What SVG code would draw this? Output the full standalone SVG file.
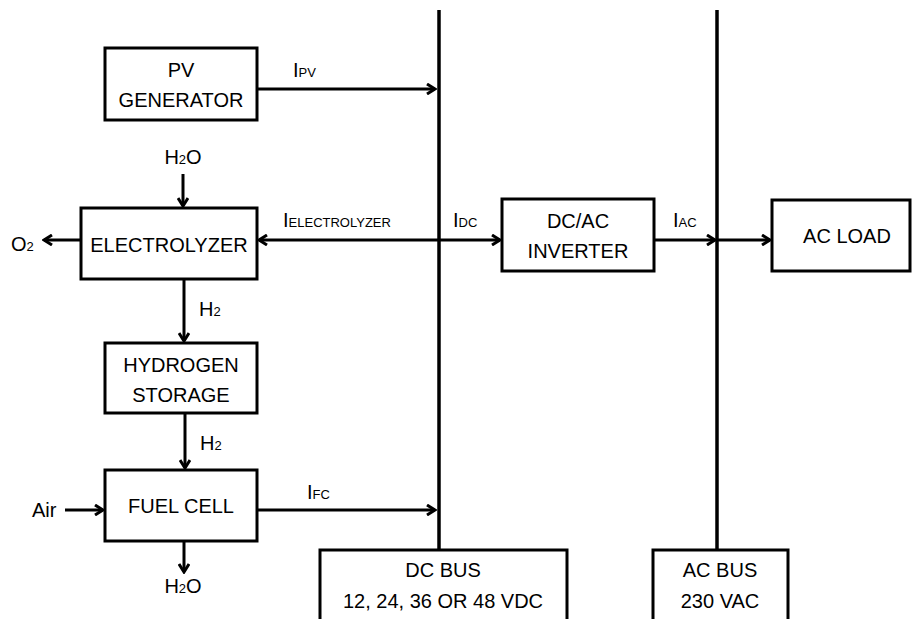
<svg xmlns="http://www.w3.org/2000/svg" width="912" height="619" viewBox="0 0 912 619">
<style>
.box{fill:#fff;stroke:#000;stroke-width:3}
.ln{fill:none;stroke:#000;stroke-width:3}
.bus{fill:none;stroke:#000;stroke-width:3.5}
text{font-family:"Liberation Sans",Arial,sans-serif;font-size:20px;fill:#000}
.c{text-anchor:middle}
.s{font-size:13px}
</style>
<defs>
<marker id="ah" markerWidth="12" markerHeight="12" refX="10" refY="6" orient="auto" markerUnits="userSpaceOnUse">
<path d="M2,1 L10,6 L2,11" fill="none" stroke="#000" stroke-width="3"/>
</marker>
</defs>
<rect width="912" height="619" fill="#fff"/>
<g id="connectors">
<line class="bus" x1="439" y1="10" x2="439" y2="550"/>
<line class="bus" x1="717" y1="10" x2="717" y2="550"/>
<line class="ln" x1="257" y1="89" x2="435" y2="89" marker-end="url(#ah)"/>
<line class="ln" x1="439" y1="240" x2="259" y2="240" marker-end="url(#ah)"/>
<line class="ln" x1="439" y1="240" x2="500" y2="240" marker-end="url(#ah)"/>
<line class="ln" x1="654" y1="240" x2="715" y2="240" marker-end="url(#ah)"/>
<line class="ln" x1="717" y1="240" x2="770" y2="240" marker-end="url(#ah)"/>
<line class="ln" x1="81" y1="240" x2="44" y2="240" marker-end="url(#ah)"/>
<line class="ln" x1="183" y1="174" x2="183" y2="206" marker-end="url(#ah)"/>
<line class="ln" x1="184" y1="279" x2="184" y2="341" marker-end="url(#ah)"/>
<line class="ln" x1="185" y1="413" x2="185" y2="468" marker-end="url(#ah)"/>
<line class="ln" x1="65" y1="510" x2="103" y2="510" marker-end="url(#ah)"/>
<line class="ln" x1="257" y1="510" x2="435" y2="510" marker-end="url(#ah)"/>
<line class="ln" x1="184" y1="541" x2="184" y2="572" marker-end="url(#ah)"/>
<text x="293" y="77">I<tspan class="s">PV</tspan></text>
<text x="283" y="227">I<tspan class="s">ELECTROLYZER</tspan></text>
<text x="453" y="227">I<tspan class="s">DC</tspan></text>
<text x="673" y="227">I<tspan class="s">AC</tspan></text>
<text x="307" y="499">I<tspan class="s">FC</tspan></text>
<text x="183" y="164" class="c">H<tspan class="s">2</tspan>O</text>
<text x="11" y="251">O<tspan class="s">2</tspan></text>
<text x="199" y="316">H<tspan class="s">2</tspan></text>
<text x="200" y="450">H<tspan class="s">2</tspan></text>
<text x="32" y="517">Air</text>
<text x="183" y="593" class="c">H<tspan class="s">2</tspan>O</text>
</g>
<g id="pv">
<rect class="box" x="105" y="48" width="152" height="72"/>
<text x="181" y="77" class="c">PV</text>
<text x="181" y="107" class="c">GENERATOR</text>
</g>
<g id="electrolyzer">
<rect class="box" x="81" y="208" width="176" height="71"/>
<text x="169" y="252" class="c">ELECTROLYZER</text>
</g>
<g id="storage">
<rect class="box" x="105" y="343" width="152" height="70"/>
<text x="181" y="372" class="c">HYDROGEN</text>
<text x="181" y="402" class="c">STORAGE</text>
</g>
<g id="fuelcell">
<rect class="box" x="105" y="470" width="152" height="71"/>
<text x="181" y="513" class="c">FUEL CELL</text>
</g>
<g id="inverter">
<rect class="box" x="502" y="199" width="152" height="72"/>
<text x="578" y="228" class="c">DC/AC</text>
<text x="578" y="258" class="c">INVERTER</text>
</g>
<g id="acload">
<rect class="box" x="772" y="200" width="138" height="71"/>
<text x="847" y="243" class="c">AC LOAD</text>
</g>
<g id="dcbus">
<path class="ln" d="M320,622 V550 H567 V622"/>
<text x="443" y="577" class="c">DC BUS</text>
<text x="443" y="608" class="c">12, 24, 36 OR 48 VDC</text>
</g>
<g id="acbus">
<path class="ln" d="M653,622 V550 H788 V622"/>
<text x="720" y="577" class="c">AC BUS</text>
<text x="720" y="608" class="c">230 VAC</text>
</g>
</svg>
